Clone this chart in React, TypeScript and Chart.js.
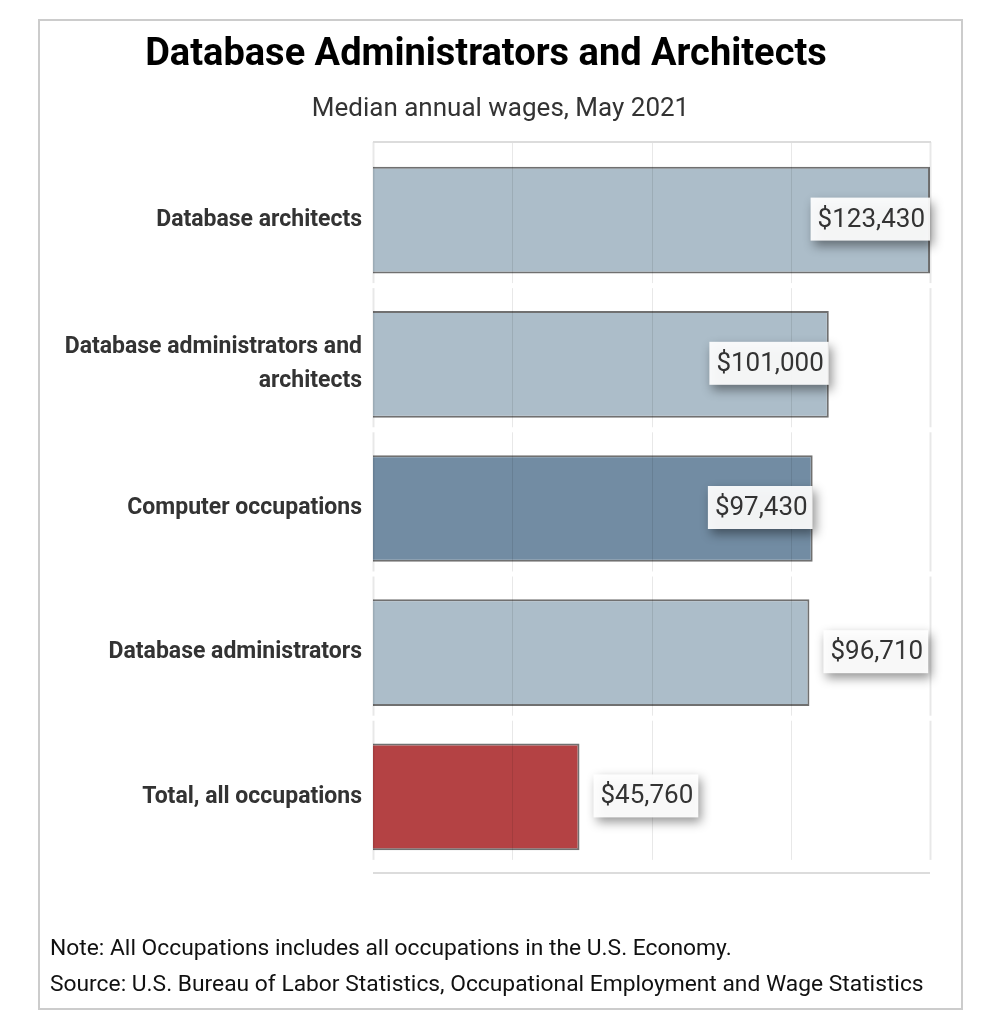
import React, { useEffect, useRef } from "react";
import { Chart, registerables } from "chart.js";

Chart.register(...registerables);

const title = "Database Administrators and Architects";
const subtitle = "Median annual wages, May 2021";
const categories = [
  "Database architects",
  "Database administrators and architects",
  "Computer occupations",
  "Database administrators",
  "Total, all occupations",
];
const wages = [123430, 101000, 97430, 96710, 45760];
const barColors = ["#acbdc9", "#acbdc9", "#728ca3", "#acbdc9", "#b44244"];
const notes = [
  "Note: All Occupations includes all occupations in the U.S. Economy.",
  "Source: U.S. Bureau of Labor Statistics, Occupational Employment and Wage Statistics",
];

const FONT = "Roboto, 'Noto Sans', sans-serif";

function wrap(label: string, maxChars: number): string[] {
  const words = label.split(" ");
  const lines: string[] = [];
  let cur = "";
  for (const w of words) {
    const next = cur ? cur + " " + w : w;
    if (next.length > maxChars && cur) {
      lines.push(cur);
      cur = w;
    } else cur = next;
  }
  if (cur) lines.push(cur);
  return lines;
}

const fmt = (v: number) => "$" + v.toLocaleString("en-US");

const decorPlugin = {
  id: "decor",
  afterDatasetsDraw(chart: any) {
    const ctx = chart.ctx;
    const xs = chart.scales.x;
    const ys = chart.scales.y;
    const area = chart.chartArea;
    const n = categories.length;
    const step = ys.getPixelForValue(1) - ys.getPixelForValue(0);
    const gridTop = area.top - 6;
    ctx.save();
    ctx.strokeStyle = "rgba(0,0,0,0.09)";
    ctx.lineWidth = 1;
    const tickVals: number[] = xs.ticks.map((t: any) => t.value);
    for (let i = 0; i < n; i++) {
      const c = ys.getPixelForValue(i);
      const top = i === 0 ? gridTop : c - step + 68;
      const bottom = c + 63;
      for (const v of tickVals) {
        const px = Math.round(xs.getPixelForValue(v)) + 0.5;
        ctx.lineWidth = v === tickVals[tickVals.length - 1] || v === 0 ? 2 : 1;
        ctx.beginPath();
        ctx.moveTo(px, top);
        ctx.lineTo(px, bottom);
        ctx.stroke();
      }
    }
    ctx.strokeStyle = "#dcdcdc";
    ctx.lineWidth = 2;
    ctx.beginPath();
    ctx.moveTo(area.left, gridTop);
    ctx.lineTo(area.right + 1, gridTop);
    ctx.stroke();
    ctx.beginPath();
    ctx.moveTo(area.left, area.bottom + 4);
    ctx.lineTo(area.right, area.bottom + 4);
    ctx.stroke();
    ctx.restore();

    const meta = chart.getDatasetMeta(0);
    ctx.save();
    ctx.font = `400 26px ${FONT}`;
    meta.data.forEach((bar: any, i: number) => {
      const text = fmt(wages[i]);
      const tw = ctx.measureText(text).width;
      const padL = 7;
      const padR = 5;
      const bw = tw + padL + padR;
      const bh = 43;
      const end = bar.x;
      let left = end + 14;
      if (left + bw > area.right + 0.5) left = end - bw;
      const top = bar.y - bh / 2 - 1;
      ctx.save();
      ctx.shadowColor = "rgba(0,0,0,0.45)";
      ctx.shadowBlur = 10;
      ctx.shadowOffsetX = 3;
      ctx.shadowOffsetY = 5;
      ctx.fillStyle = "rgba(255,255,255,0.93)";
      ctx.fillRect(left, top, bw, bh);
      ctx.restore();
      ctx.fillStyle = "#333333";
      ctx.textBaseline = "middle";
      ctx.textAlign = "left";
      ctx.fillText(text, left + padL, top + bh / 2 + 1);
    });
    ctx.restore();
  },
};

export default function App() {
  const ref = useRef<HTMLCanvasElement | null>(null);
  useEffect(() => {
    if (!ref.current) return;
    const chart = new Chart(ref.current, {
      type: "bar",
      data: {
        labels: categories.map((c) => wrap(c, 28)),
        datasets: [
          {
            data: wages,
            backgroundColor: barColors,
            borderColor: "#707070",
            borderWidth: 2,
            barPercentage: 0.74,
            categoryPercentage: 1,
          },
        ],
      },
      options: {
        indexAxis: "y",
        responsive: false,
        animation: false,
        layout: { padding: { top: 127, bottom: 139, right: 31, left: 0 } },
        plugins: {
          legend: { display: false },
          tooltip: { enabled: false },
          title: { display: false },
        },
        scales: {
          x: {
            display: false,
            min: 0,
            max: Math.max(...wages),
            ticks: { stepSize: Math.max(...wages) / 4 },
          },
          y: {
            afterFit: (s: any) => {
              s.width = 333;
            },
            grid: { display: false },
            border: { display: false },
            ticks: {
              padding: 3,
              color: "#333333",
              font: { family: FONT, size: 23, weight: "bold", lineHeight: 1.5 },
            },
          },
        },
      },
      plugins: [decorPlugin],
    } as any);
    return () => chart.destroy();
  }, []);

  return (
    <div
      style={{
        position: "absolute",
        left: 38,
        top: 19,
        width: 925,
        height: 991,
        boxSizing: "border-box",
        border: "2px solid #cccccc",
        background: "#fff",
        fontFamily: FONT,
      }}
    >
      <canvas ref={ref} width={921} height={987} style={{ position: "absolute", left: 0, top: 0, width: 921, height: 987 }} />
      <div
        style={{
          position: "absolute",
          left: 0,
          top: 8,
          width: 921,
          boxSizing: "border-box",
          paddingRight: 29,
          textAlign: "center",
          fontSize: 38,
          fontWeight: 700,
          lineHeight: "46px",
          color: "#000",
          whiteSpace: "nowrap",
        }}
      >
        {title}
      </div>
      <div
        style={{
          position: "absolute",
          left: 0,
          top: 69,
          width: 921,
          textAlign: "center",
          fontSize: 26,
          lineHeight: "34px",
          color: "#333",
        }}
      >
        {subtitle}
      </div>
      <div style={{ position: "absolute", left: 10, top: 909, fontSize: 22.8, lineHeight: "36px", color: "#111", whiteSpace: "nowrap" }}>
        {notes.map((n) => (
          <div key={n}>{n}</div>
        ))}
      </div>
    </div>
  );
}
